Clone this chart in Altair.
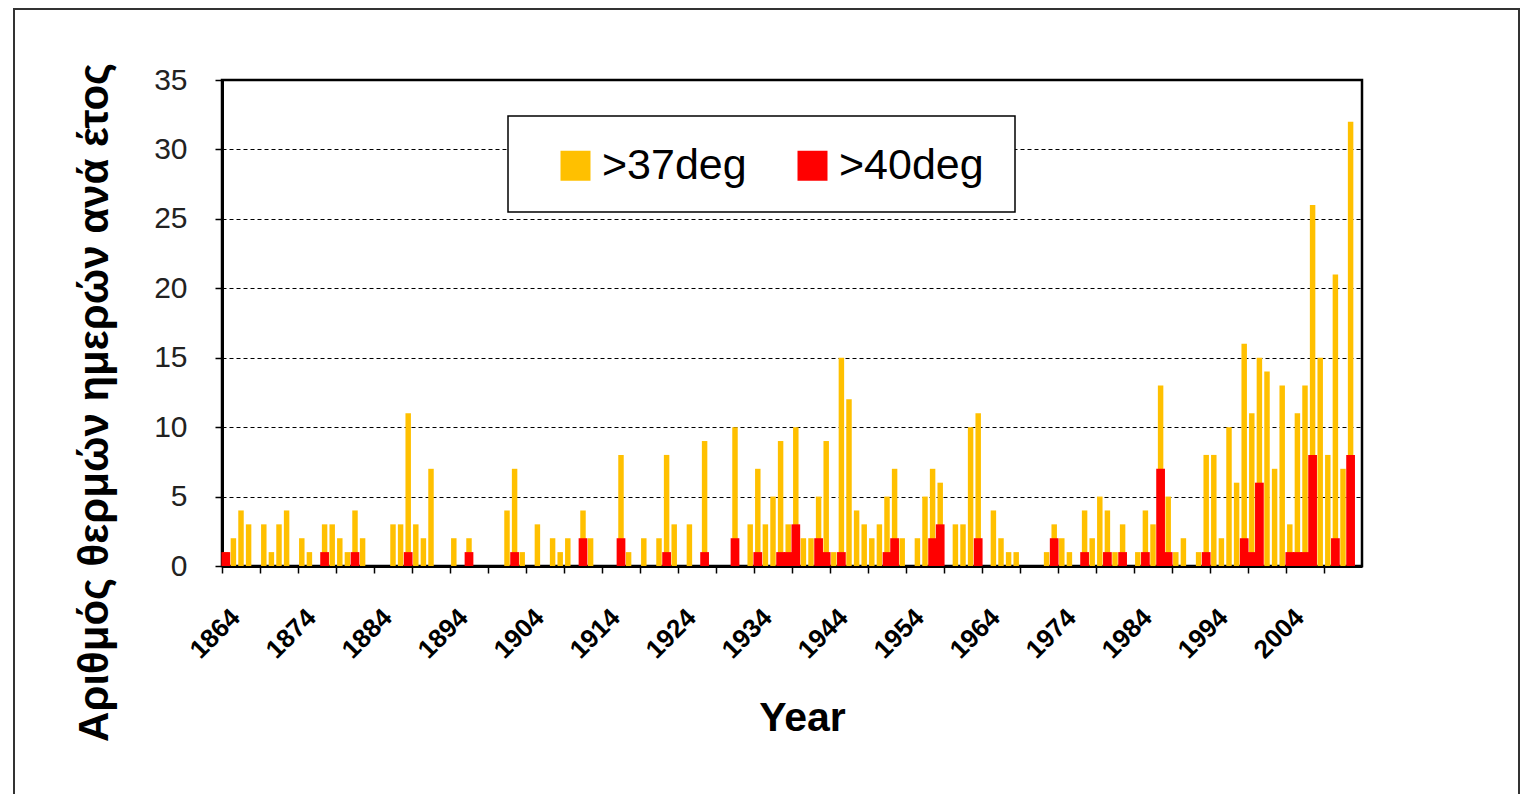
import altair as alt
import pandas as pd

# Categories: one per year, 1864-2013
years = list(range(1864, 2014))

# Number of days per year above 37 degrees (orange)
days_37 = [
    1, 2, 4, 3, 0, 3, 1, 3, 4, 0,
    2, 1, 0, 3, 3, 2, 1, 4, 2, 0,
    0, 0, 3, 3, 11, 3, 2, 7, 0, 0,
    2, 0, 2, 0, 0, 0, 0, 4, 7, 1,
    0, 3, 0, 2, 1, 2, 0, 4, 2, 0,
    0, 0, 8, 1, 0, 2, 0, 2, 8, 3,
    0, 3, 0, 9, 0, 0, 0, 10, 0, 3,
    7, 3, 5, 9, 3, 10, 2, 2, 5, 9,
    1, 15, 12, 4, 3, 2, 3, 5, 7, 2,
    0, 2, 5, 7, 6, 0, 3, 3, 10, 11,
    0, 4, 2, 1, 1, 0, 0, 0, 1, 3,
    2, 1, 0, 4, 2, 5, 4, 1, 3, 0,
    1, 4, 3, 13, 5, 1, 2, 0, 1, 8,
    8, 2, 10, 6, 16, 11, 15, 14, 7, 13,
    3, 11, 13, 26, 15, 8, 21, 7, 32, 0,
]

# Number of days per year above 40 degrees (red)
days_40 = [
    1, 0, 0, 0, 0, 0, 0, 0, 0, 0,
    0, 0, 0, 1, 0, 0, 0, 1, 0, 0,
    0, 0, 0, 0, 1, 0, 0, 0, 0, 0,
    0, 0, 1, 0, 0, 0, 0, 0, 1, 0,
    0, 0, 0, 0, 0, 0, 0, 2, 0, 0,
    0, 0, 2, 0, 0, 0, 0, 0, 1, 0,
    0, 0, 0, 1, 0, 0, 0, 2, 0, 0,
    1, 0, 0, 1, 1, 3, 0, 0, 2, 1,
    0, 1, 0, 0, 0, 0, 0, 1, 2, 0,
    0, 0, 0, 2, 3, 0, 0, 0, 0, 2,
    0, 0, 0, 0, 0, 0, 0, 0, 0, 2,
    0, 0, 0, 1, 0, 0, 1, 0, 1, 0,
    0, 1, 0, 7, 1, 0, 0, 0, 0, 1,
    0, 0, 0, 0, 2, 1, 6, 0, 0, 0,
    1, 1, 1, 8, 0, 0, 2, 0, 8, 0,
]

series_names = [">37deg", ">40deg"]
series_colors = ["#FFC000", "#FF0000"]
y_ticks = [0, 5, 10, 15, 20, 25, 30, 35]
x_tick_years = years[::5]

y_title = "Αριθμός θερμών ημερών ανά έτος"
x_title = "Year"

df = pd.DataFrame({
    "Year": years + years,
    "Days": days_37 + days_40,
    "Series": [series_names[0]] * len(years) + [series_names[1]] * len(years),
})

W, H = 1140, 486
FONT = "Liberation Sans"

x_enc = alt.X(
    "Year:O",
    scale=alt.Scale(domain=years, paddingInner=0, paddingOuter=0),
    title=x_title,
    axis=alt.Axis(
        values=x_tick_years,
        bandPosition=0,
        labelExpr="(datum.value - 1864) % 10 == 0 ? datum.label : ''",
        labelAngle=-45,
        labelAlign="right",
        labelBaseline="middle",
        labelFont=FONT,
        labelFontSize=26,
        labelFontWeight="bold",
        labelColor="#000000",
        labelPadding=40,
        labelOffset=10,
        labelOverlap=False,
        labelBound=False,
        domainColor="#000000",
        domainWidth=3,
        tickColor="#000000",
        tickSize=7,
        tickWidth=1.5,
        grid=False,
        titleFont=FONT,
        titleFontSize=41,
        titleFontWeight="bold",
        titleColor="#000000",
        titleX=580,
        titleY=152,
        titleAlign="center",
        titleBaseline="middle",
    ),
)

y_enc = alt.Y(
    "Days:Q",
    scale=alt.Scale(domain=[0, 35], nice=False, zero=True),
    title=y_title,
    axis=alt.Axis(
        values=y_ticks,
        grid=True,
        gridColor="#000000",
        gridDash=[4, 3],
        gridWidth=1,
        domainColor="#000000",
        domainWidth=3,
        tickColor="#000000",
        tickSize=7,
        tickWidth=1.5,
        labelFont=FONT,
        labelFontSize=30,
        labelColor="#222222",
        labelPadding=28,
        titleFont=FONT,
        titleFontSize=42,
        titleFontWeight="bold",
        titleColor="#000000",
        titleX=-128,
        titleY=322,
        titleAngle=-90,
        titleAlign="center",
        titleBaseline="middle",
    ),
)

color_enc = alt.Color(
    "Series:N",
    scale=alt.Scale(domain=series_names, range=series_colors),
    legend=alt.Legend(
        title=None,
        orient="none",
        legendX=332,
        legendY=64,
        direction="horizontal",
        symbolType="square",
        symbolSize=900,
        symbolStrokeWidth=0,
        symbolOpacity=1,
        labelFont=FONT,
        labelFontSize=43,
        labelColor="#000000",
        labelOffset=5,
        columnPadding=44,
        padding=0,
    ),
)

base = alt.Chart(df)

orange = base.transform_filter(alt.datum.Series == series_names[0]).mark_bar(
    width=alt.RelativeBandSize(0.72)
).encode(x=x_enc, y=y_enc, color=color_enc)

red = base.transform_filter(alt.datum.Series == series_names[1]).mark_bar(
    width=alt.RelativeBandSize(1.15)
).encode(x=x_enc, y=y_enc, color=color_enc)

deco = pd.DataFrame({"k": [0]})

legend_box = alt.Chart(deco).mark_rect(
    fill="#FFFFFF", stroke="#000000", strokeWidth=1.5
).encode(
    x=alt.value(286), x2=alt.value(793), y=alt.value(36), y2=alt.value(132)
)

outer_frame = alt.Chart(deco).mark_rect(
    fill="#FFFFFF", fillOpacity=0, stroke="#333333", strokeWidth=2
).encode(
    x=alt.value(-208), x2=alt.value(1297), y=alt.value(-71), y2=alt.value(760)
)

chart = alt.layer(orange, red, legend_box, outer_frame).properties(
    width=W,
    height=H,
    background="#FFFFFF",
    padding={"left": 214, "top": 72, "right": 160, "bottom": 228},
    autosize=alt.AutoSizeParams(type="none"),
).configure_view(
    stroke="#000000", strokeWidth=2.5
)

chart.save("out.html", embed_options={"renderer": "svg", "actions": False})
